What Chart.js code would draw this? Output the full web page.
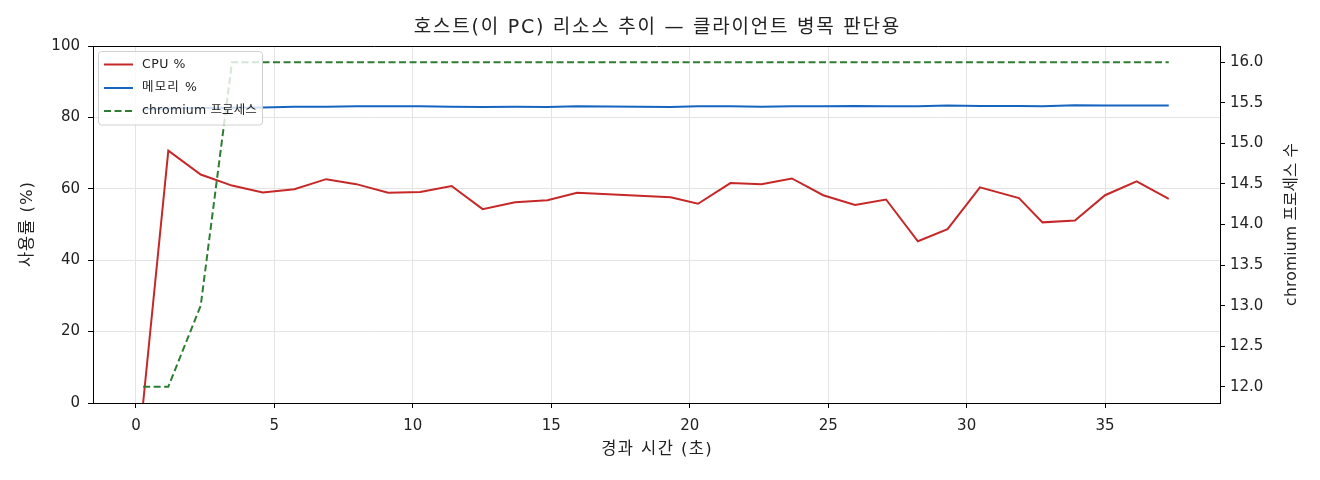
<!DOCTYPE html>
<html>
<head>
<meta charset="utf-8">
<script src="https://cdn.jsdelivr.net/npm/chart.js@4.4.1/dist/chart.umd.min.js"></script>
<style>
  html, body { margin: 0; padding: 0; background: #ffffff; }
  #wrap { width: 1320px; height: 480px; }
</style>
</head>
<body>
<div id="wrap"><canvas id="c" width="1320" height="480"></canvas></div>
<script>
// ---- data ----
const times = [0.26, 1.17, 2.34, 3.47, 4.58, 5.72, 6.87, 7.96, 9.11, 10.27, 11.40, 12.52, 13.69, 14.86, 15.93,
               19.31, 20.30, 21.47, 22.59, 23.69, 24.82, 25.97, 27.09, 28.24, 29.31, 30.48, 31.89, 32.74, 33.91,
               35.00, 36.14, 37.30];
const cpuValues = [0, 70.7, 64.0, 60.9, 59.0, 59.9, 62.7, 61.3, 58.9, 59.1, 60.8, 54.3, 56.2, 56.8, 58.9,
                   57.6, 55.8, 61.6, 61.3, 62.9, 58.2, 55.5, 57.0, 45.3, 48.7, 60.4, 57.4, 50.6, 51.1,
                   58.2, 62.1, 57.2];
const memValues = [82.3, 82.5, 82.6, 82.7, 82.8, 83.0, 83.0, 83.1, 83.1, 83.1, 83.0, 82.9, 83.0, 82.9, 83.1,
                   82.9, 83.1, 83.1, 83.0, 83.1, 83.1, 83.2, 83.1, 83.1, 83.3, 83.2, 83.2, 83.1, 83.4,
                   83.3, 83.3, 83.3];
const chromiumValues = [12, 12, 13, 16, 16, 16, 16, 16, 16, 16, 16, 16, 16, 16, 16,
                        16, 16, 16, 16, 16, 16, 16, 16, 16, 16, 16, 16, 16, 16,
                        16, 16, 16];
const seriesLabels = ['CPU %', '메모리 %', 'chromium 프로세스'];
const xTicks = [0, 5, 10, 15, 20, 25, 30, 35];
const leftTicks = [0, 20, 40, 60, 80, 100];
const rightTicks = [12.0, 12.5, 13.0, 13.5, 14.0, 14.5, 15.0, 15.5, 16.0];
const titleText = '호스트(이 PC) 리소스 추이 — 클라이언트 병목 판단용';
const xTitle = '경과 시간 (초)';
const leftTitle = '사용률 (%)';
const rightTitle = 'chromium 프로세스 수';

// ---- styles ----
const FONT = "'DejaVu Sans', 'Noto Sans CJK KR', sans-serif";
const colors = ['#c62828', '#1565c0', '#2e7d32'];
const gridColor = '#e4e4e4';
const textColor = '#222';

const toPts = vals => vals.map((v, i) => ({ x: times[i], y: v }));

// draws a text centred at (cx, cy), spaced to span `span` pixels, optionally rotated
function drawSpacedText(ctx, text, cx, cy, size, span, rotate, align) {
  ctx.save();
  ctx.font = size + 'px ' + FONT;
  ctx.letterSpacing = '0px';
  const natural = ctx.measureText(text).width;
  const n = Array.from(text).length;
  const ls = span ? Math.max(-1, (span - natural) / n) : 0;
  ctx.letterSpacing = ls + 'px';
  ctx.translate(cx, cy);
  if (rotate) ctx.rotate(rotate);
  ctx.fillStyle = textColor;
  ctx.textBaseline = 'middle';
  ctx.textAlign = 'left';
  if (align === 'left') {
    ctx.fillText(text, 0, 0);
  } else {
    const w = natural + ls * n;
    ctx.fillText(text, -w / 2 + ls / 2, 0);
  }
  ctx.restore();
}

const framePlugin = {
  id: 'frame',
  afterDatasetsDraw(chart) {
    const { ctx, chartArea: a } = chart;
    ctx.save();
    ctx.strokeStyle = '#000';
    ctx.lineWidth = 1;
    ctx.beginPath();
    ctx.moveTo(a.left, a.top + 0.5);
    ctx.lineTo(a.right, a.top + 0.5);
    ctx.stroke();
    ctx.restore();
  }
};

const legendPlugin = {
  id: 'innerLegend',
  afterDatasetsDraw(chart) {
    const { ctx } = chart;
    const x = 98.5, y = 51.5, w = 164, h = 73.5;
    ctx.save();
    ctx.beginPath();
    ctx.roundRect(x, y, w, h, 3);
    ctx.fillStyle = 'rgba(255,255,255,0.8)';
    ctx.fill();
    ctx.strokeStyle = '#d0d0d0';
    ctx.lineWidth = 1;
    ctx.stroke();
    const rows = [64.5, 88, 111];
    const spans = [44, 56, 115];
    chart.data.datasets.forEach((ds, i) => {
      const ry = rows[i];
      ctx.beginPath();
      ctx.strokeStyle = ds.borderColor;
      ctx.lineWidth = ds.borderWidth;
      ctx.setLineDash(ds.borderDash || []);
      ctx.moveTo(104, ry);
      ctx.lineTo(133, ry);
      ctx.stroke();
      ctx.setLineDash([]);
      drawSpacedText(ctx, ds.label, 142, ry, 12.5, spans[i], 0, 'left');
    });
    ctx.restore();
  }
};

const textPlugin = {
  id: 'texts',
  afterDraw(chart) {
    const { ctx, chartArea: a } = chart;
    const midY = (a.top + a.bottom) / 2;
    const midX = (a.left + a.right) / 2;
    drawSpacedText(ctx, titleText, midX, 28, 19, 487, 0);
    drawSpacedText(ctx, xTitle, midX, 450, 16.5, 112, 0);
    drawSpacedText(ctx, leftTitle, 28, midY, 16.5, 86, -Math.PI / 2);
    drawSpacedText(ctx, rightTitle, 1292, midY, 15.5, 163, -Math.PI / 2);
  }
};

new Chart(document.getElementById('c'), {
  type: 'line',
  data: {
    datasets: [
      { label: seriesLabels[0], data: toPts(cpuValues), yAxisID: 'y', borderColor: colors[0], backgroundColor: colors[0],
        borderWidth: 2, pointRadius: 0, tension: 0, order: 2 },
      { label: seriesLabels[1], data: toPts(memValues), yAxisID: 'y', borderColor: colors[1], backgroundColor: colors[1],
        borderWidth: 2, pointRadius: 0, tension: 0, order: 1 },
      { label: seriesLabels[2], data: toPts(chromiumValues), yAxisID: 'y1', borderColor: colors[2], backgroundColor: colors[2],
        borderWidth: 2, borderDash: [7, 3.5], pointRadius: 0, tension: 0, order: 0 }
    ]
  },
  options: {
    responsive: false,
    animation: false,
    devicePixelRatio: 1,
    layout: { padding: { top: 46, left: 0, right: 0, bottom: 0 } },
    plugins: {
      legend: { display: false },
      tooltip: { enabled: false },
      title: { display: false }
    },
    scales: {
      x: {
        type: 'linear', min: -1.55, max: 39.15,
        afterBuildTicks: s => { s.ticks = xTicks.map(v => ({ value: v })); },
        afterFit: s => { s.height = 77; },
        ticks: { color: textColor, font: { family: FONT, size: 15 }, padding: 9, maxRotation: 0, callback: v => String(v) },
        grid: { color: gridColor, tickColor: '#000', tickLength: 5, lineWidth: 1 },
        border: { color: '#000', width: 1 }
      },
      y: {
        type: 'linear', position: 'left', min: 0, max: 100,
        afterBuildTicks: s => { s.ticks = leftTicks.map(v => ({ value: v })); },
        afterFit: s => { s.width = 93; },
        ticks: { color: textColor, font: { family: FONT, size: 15 }, padding: 8, callback: v => String(v) },
        grid: { color: gridColor, tickColor: '#000', tickLength: 5, lineWidth: 1 },
        border: { color: '#000', width: 1 }
      },
      y1: {
        type: 'linear', position: 'right', min: 11.8, max: 16.2,
        afterBuildTicks: s => { s.ticks = rightTicks.map(v => ({ value: v })); },
        afterFit: s => { s.width = 100; },
        ticks: { color: textColor, font: { family: FONT, size: 15 }, padding: 5, callback: v => Number(v).toFixed(1) },
        grid: { drawOnChartArea: false, tickColor: '#000', tickLength: 5 },
        border: { color: '#000', width: 1 }
      }
    }
  },
  plugins: [framePlugin, legendPlugin, textPlugin]
});
</script>
</body>
</html>
